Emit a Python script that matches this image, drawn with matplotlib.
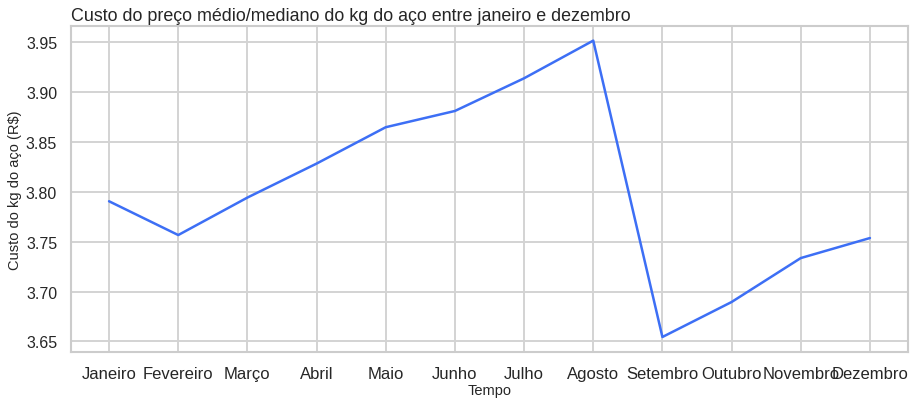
import matplotlib
matplotlib.use('Agg')
import matplotlib.pyplot as plt
import seaborn as sns

meses = ['Janeiro', 'Fevereiro', 'Março', 'Abril', 'Maio', 'Junho', 'Julho',
         'Agosto', 'Setembro', 'Outubro', 'Novembro', 'Dezembro']
custo = [3.7906, 3.7567, 3.7943, 3.8284, 3.8649, 3.8812, 3.9140,
         3.9518, 3.6544, 3.6895, 3.7336, 3.7537]

sns.set_theme(style='whitegrid')
plt.rcParams['font.family'] = ['Liberation Sans', 'DejaVu Sans']

fig, ax = plt.subplots(figsize=(9.14, 4.06), dpi=100)
fig.subplots_adjust(left=0.0777, right=0.9934, top=0.934, bottom=0.131)

ax.plot(meses, custo, color='#3d6ff5', linewidth=1.8)

for s in ax.spines.values():
    s.set_color('#cccccc')
    s.set_linewidth(1.5)
ax.grid(color='#d3d3d3', linewidth=1.4)
ax.tick_params(axis='x', labelsize=12, pad=10, length=0, labelcolor='#262626')
ax.tick_params(axis='y', labelsize=11.5, pad=10, length=0, labelcolor='#262626')
ax.set_yticks([3.65, 3.70, 3.75, 3.80, 3.85, 3.90, 3.95])
ax.yaxis.set_major_formatter(matplotlib.ticker.FormatStrFormatter('%.2f'))

ax.set_title('Custo do preço médio/mediano do kg do aço entre janeiro e dezembro',
             loc='left', fontsize=12.9, pad=4, color='#262626')
ax.set_xlabel('Tempo', fontsize=10.5, labelpad=2)
ax.set_ylabel('Custo do kg do aço (R$)', fontsize=10.5, labelpad=3)

fig.savefig('out.png', dpi=100)
